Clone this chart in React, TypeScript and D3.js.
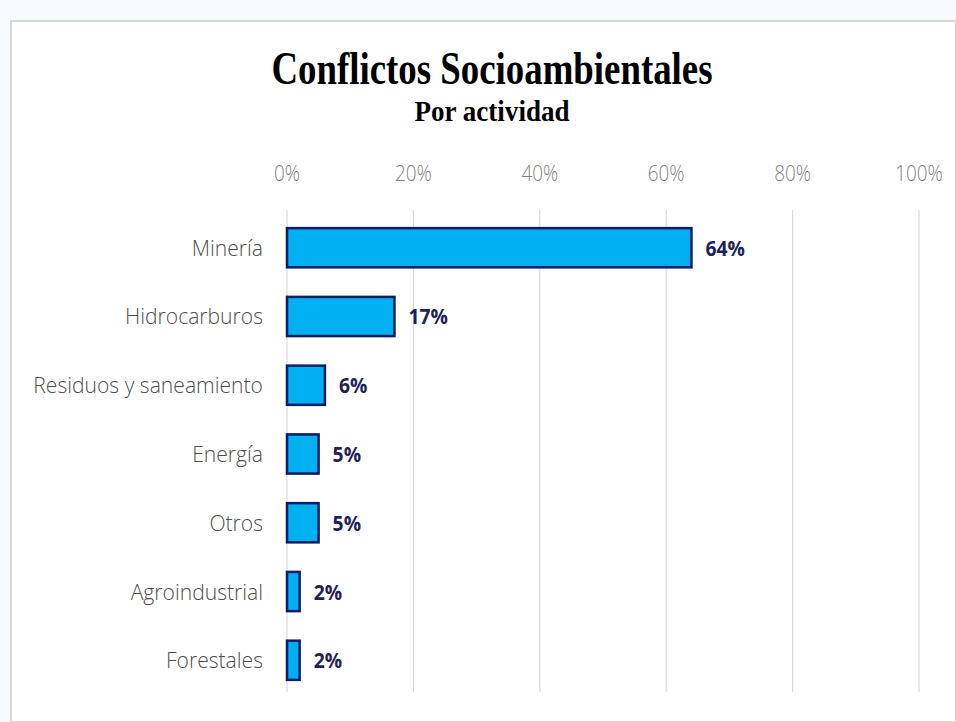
import React from "react";
import * as d3 from "d3";

const categories = ["Minería", "Hidrocarburos", "Residuos y saneamiento", "Energía", "Otros", "Agroindustrial", "Forestales"];
const values = [64, 17, 6, 5, 5, 2, 2];
const ticks = [0, 20, 40, 60, 80, 100];
const title = "Conflictos Socioambientales";
const subtitle = "Por actividad";

const W = 956, H = 722;

const sx = (cx: number, k: number) => `translate(${cx},0) scale(${k},1) translate(${-cx},0)`;

export default function App() {
  const x = d3.scaleLinear().domain([0, 100]).range([287, 919]);
  const y = d3.scaleBand().domain(categories).range([213, 695]).paddingInner(0.43).paddingOuter(0.22);
  const fmt = (v: number) => `${v}%`;
  return (
    <svg width={W} height={H} style={{ position: "absolute", left: 0, top: 0, background: "#fff" }}>
      <rect x={0} y={0} width={W} height={H} fill="#f7fafc" />
      <rect x={11} y={21} width={W - 11} height={H - 21} fill="#ffffff" stroke="#d6d6d6" strokeWidth={2} />
      <text x={492} y={84} textAnchor="middle" fontFamily="Liberation Serif, serif" fontWeight="bold" fontSize={46} textLength={441} lengthAdjust="spacingAndGlyphs" fill="#000">{title}</text>
      <text x={492} y={121} textAnchor="middle" fontFamily="Liberation Serif, serif" fontWeight="bold" fontSize={29} textLength={155} lengthAdjust="spacingAndGlyphs" fill="#000">{subtitle}</text>
      {ticks.map(t => (
        <g key={t}>
          <line x1={x(t)} x2={x(t)} y1={210} y2={692} stroke="#d9d9d9" strokeWidth={1.2} />
          <text x={x(t)} y={181} textAnchor="middle" fontFamily="Open Sans, sans-serif" fontWeight={300} fontSize={22} fill="#7f7f7f" transform={sx(x(t), 0.86)}>{fmt(t)}</text>
        </g>
      ))}
      {categories.map((c, i) => {
        const yy = y(c)!;
        const bw = y.bandwidth();
        const lx = x(values[i]) + 14;
        return (
          <g key={c}>
            <rect x={x(0)} y={yy} width={x(values[i]) - x(0)} height={bw} fill="#00b0f0" stroke="#0d1a66" strokeWidth={2.5} />
            <text x={263} y={yy + bw / 2 + 8} textAnchor="end" fontFamily="Open Sans, sans-serif" fontWeight={300} fontSize={22} fill="#4d4d4d" transform={sx(263, 0.96)}>{c}</text>
            <text x={lx} y={yy + bw / 2 + 8} fontFamily="Open Sans, sans-serif" fontWeight="bold" fontSize={21} fill="#1f1f5c" transform={sx(lx, 0.92)}>{fmt(values[i])}</text>
          </g>
        );
      })}
    </svg>
  );
}
